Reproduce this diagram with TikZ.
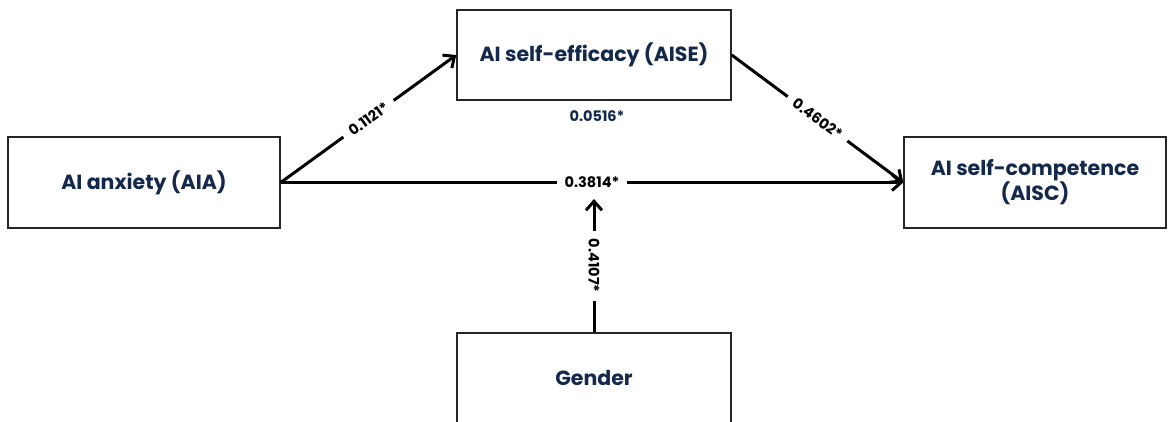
\documentclass[tikz,border=0pt]{standalone}
\usepackage{fontspec}
\setmainfont{Poppins}
\usetikzlibrary{arrows.meta}
\definecolor{navy}{RGB}{20,40,75}
\tikzset{
  box/.style={draw=black!85, line width=1.5pt, rectangle, align=center, text=navy,
    font=\fontsize{20.5}{25}\selectfont\bfseries, inner sep=0pt},
  path/.style={draw=black, line width=3pt, -{Straight Barb[length=9pt,width=16pt,line width=3pt]}},
  coef/.style={fill=white, text=black, font=\fontsize{14.5}{16}\selectfont\bfseries, inner ysep=3pt, inner xsep=8pt},
}
\begin{document}
\begin{tikzpicture}[x=1pt,y=-1pt]
\useasboundingbox (0,0) rectangle (1168,421);
\clip (0,0) rectangle (1168,421);
\node[box, minimum width=274pt, minimum height=90pt] (aise) at (594,55) {AI self-efficacy (AISE)};
\node[box, minimum width=272pt, minimum height=91pt] (aia) at (144,182.5) {AI anxiety (AIA)};
\node[box, minimum width=262pt, minimum height=91pt] (aisc) at (1035,182.5) {AI self-competence\\(AISC)};
\node[box, minimum width=274pt, minimum height=90pt] (gender) at (594,378) {Gender};
\node[coef, text=navy] (ind) at (597,116) {0.0516*};
\draw[path] (aia.east) -- node[coef, midway, sloped] {0.1121*} (aise.west);
\draw[path] (aise.east) -- node[coef, midway, sloped] {0.4602*} (aisc.west);
\draw[path] (aia.east) -- node[coef, pos=0.5] (direct) {0.3814*} (aisc.west);
\coordinate (tip) at (594,199);
\draw[path] (gender.north) -- node[coef, midway, rotate=-90] {0.4107*} (tip);
\end{tikzpicture}
\end{document}
